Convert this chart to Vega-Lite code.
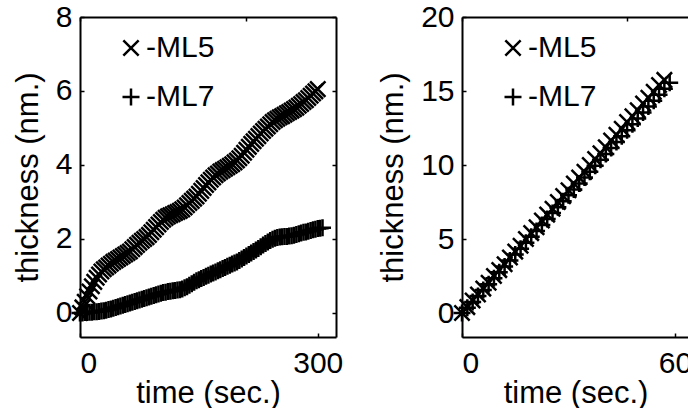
{
 "$schema": "https://vega.github.io/schema/vega-lite/v6.json",
 "padding": {"left": 12, "top": 2, "right": 0, "bottom": 0},
 "spacing": 34,
 "background": "white",
 "config": {
  "font": "Liberation Sans",
  "view": {"stroke": null},
  "axis": {
   "grid": false,
   "domainColor": "black", "domainWidth": 2,
   "tickColor": "black", "tickWidth": 1.5, "tickSize": -4,
   "labelFont": "Liberation Sans", "labelFontSize": 30, "labelColor": "black",
   "titleFont": "Liberation Sans", "titleFontSize": 31, "titleFontWeight": "normal", "titleColor": "black"
  },
  "axisX": {"labelPadding": 15, "titlePadding": 0},
  "axisY": {"labelPadding": 12, "titlePadding": 11},
  "legend": {
   "orient": "none", "legendX": 36, "legendY": 16, "title": null, "padding": 0,
   "labelFont": "Liberation Sans", "labelFontSize": 30, "labelColor": "black",
   "symbolSize": 289, "symbolStrokeWidth": 2.5, "symbolStrokeColor": "black", "symbolFillColor": "transparent",
   "labelOffset": 0, "rowPadding": 19
  }
 },
 "resolve": {"scale": {"shape": "independent"}, "legend": {"shape": "independent"}},
 "datasets": {
  "left": [
   {"series":"ML5","t":0,"v":0.00},{"series":"ML5","t":3,"v":0.15},{"series":"ML5","t":6,"v":0.30},{"series":"ML5","t":9,"v":0.45},{"series":"ML5","t":12,"v":0.58},{"series":"ML5","t":15,"v":0.72},{"series":"ML5","t":18,"v":0.84},{"series":"ML5","t":21,"v":0.95},{"series":"ML5","t":24,"v":1.04},{"series":"ML5","t":27,"v":1.12},
   {"series":"ML5","t":30,"v":1.18},{"series":"ML5","t":33,"v":1.23},{"series":"ML5","t":36,"v":1.28},{"series":"ML5","t":39,"v":1.33},{"series":"ML5","t":42,"v":1.38},{"series":"ML5","t":45,"v":1.42},{"series":"ML5","t":48,"v":1.46},{"series":"ML5","t":51,"v":1.50},{"series":"ML5","t":54,"v":1.54},{"series":"ML5","t":57,"v":1.58},
   {"series":"ML5","t":60,"v":1.62},{"series":"ML5","t":63,"v":1.66},{"series":"ML5","t":66,"v":1.72},{"series":"ML5","t":69,"v":1.78},{"series":"ML5","t":72,"v":1.84},{"series":"ML5","t":75,"v":1.90},{"series":"ML5","t":78,"v":1.95},{"series":"ML5","t":81,"v":2.00},{"series":"ML5","t":84,"v":2.05},{"series":"ML5","t":87,"v":2.11},
   {"series":"ML5","t":90,"v":2.18},{"series":"ML5","t":93,"v":2.25},{"series":"ML5","t":96,"v":2.32},{"series":"ML5","t":99,"v":2.39},{"series":"ML5","t":102,"v":2.46},{"series":"ML5","t":105,"v":2.52},{"series":"ML5","t":108,"v":2.57},{"series":"ML5","t":111,"v":2.61},{"series":"ML5","t":114,"v":2.64},{"series":"ML5","t":117,"v":2.67},
   {"series":"ML5","t":120,"v":2.70},{"series":"ML5","t":123,"v":2.73},{"series":"ML5","t":126,"v":2.76},{"series":"ML5","t":129,"v":2.80},{"series":"ML5","t":132,"v":2.85},{"series":"ML5","t":135,"v":2.91},{"series":"ML5","t":138,"v":2.97},{"series":"ML5","t":141,"v":3.03},{"series":"ML5","t":144,"v":3.09},{"series":"ML5","t":147,"v":3.15},
   {"series":"ML5","t":150,"v":3.22},{"series":"ML5","t":153,"v":3.30},{"series":"ML5","t":156,"v":3.38},{"series":"ML5","t":159,"v":3.46},{"series":"ML5","t":162,"v":3.53},{"series":"ML5","t":165,"v":3.60},{"series":"ML5","t":168,"v":3.66},{"series":"ML5","t":171,"v":3.72},{"series":"ML5","t":174,"v":3.77},{"series":"ML5","t":177,"v":3.82},
   {"series":"ML5","t":180,"v":3.86},{"series":"ML5","t":183,"v":3.90},{"series":"ML5","t":186,"v":3.94},{"series":"ML5","t":189,"v":3.98},{"series":"ML5","t":192,"v":4.02},{"series":"ML5","t":195,"v":4.07},{"series":"ML5","t":198,"v":4.12},{"series":"ML5","t":201,"v":4.18},{"series":"ML5","t":204,"v":4.25},{"series":"ML5","t":207,"v":4.33},
   {"series":"ML5","t":210,"v":4.41},{"series":"ML5","t":213,"v":4.49},{"series":"ML5","t":216,"v":4.57},{"series":"ML5","t":219,"v":4.64},{"series":"ML5","t":222,"v":4.71},{"series":"ML5","t":225,"v":4.78},{"series":"ML5","t":228,"v":4.85},{"series":"ML5","t":231,"v":4.92},{"series":"ML5","t":234,"v":4.98},{"series":"ML5","t":237,"v":5.04},
   {"series":"ML5","t":240,"v":5.10},{"series":"ML5","t":243,"v":5.16},{"series":"ML5","t":246,"v":5.21},{"series":"ML5","t":249,"v":5.25},{"series":"ML5","t":252,"v":5.29},{"series":"ML5","t":255,"v":5.32},{"series":"ML5","t":258,"v":5.36},{"series":"ML5","t":261,"v":5.40},{"series":"ML5","t":264,"v":5.43},{"series":"ML5","t":267,"v":5.47},
   {"series":"ML5","t":270,"v":5.51},{"series":"ML5","t":273,"v":5.55},{"series":"ML5","t":276,"v":5.60},{"series":"ML5","t":279,"v":5.65},{"series":"ML5","t":282,"v":5.70},{"series":"ML5","t":285,"v":5.75},{"series":"ML5","t":288,"v":5.81},{"series":"ML5","t":291,"v":5.87},{"series":"ML5","t":294,"v":5.93},{"series":"ML5","t":297,"v":5.99},
   {"series":"ML5","t":300,"v":6.05},
   {"series":"ML7","t":0,"v":0.00},{"series":"ML7","t":3,"v":0.00},{"series":"ML7","t":6,"v":0.01},{"series":"ML7","t":9,"v":0.01},{"series":"ML7","t":12,"v":0.02},{"series":"ML7","t":15,"v":0.02},{"series":"ML7","t":18,"v":0.03},{"series":"ML7","t":21,"v":0.03},{"series":"ML7","t":24,"v":0.04},{"series":"ML7","t":27,"v":0.05},
   {"series":"ML7","t":30,"v":0.06},{"series":"ML7","t":33,"v":0.07},{"series":"ML7","t":36,"v":0.09},{"series":"ML7","t":39,"v":0.11},{"series":"ML7","t":42,"v":0.13},{"series":"ML7","t":45,"v":0.15},{"series":"ML7","t":48,"v":0.17},{"series":"ML7","t":51,"v":0.19},{"series":"ML7","t":54,"v":0.21},{"series":"ML7","t":57,"v":0.23},
   {"series":"ML7","t":60,"v":0.25},{"series":"ML7","t":63,"v":0.27},{"series":"ML7","t":66,"v":0.29},{"series":"ML7","t":69,"v":0.31},{"series":"ML7","t":72,"v":0.33},{"series":"ML7","t":75,"v":0.35},{"series":"ML7","t":78,"v":0.37},{"series":"ML7","t":81,"v":0.39},{"series":"ML7","t":84,"v":0.41},{"series":"ML7","t":87,"v":0.43},
   {"series":"ML7","t":90,"v":0.45},{"series":"ML7","t":93,"v":0.47},{"series":"ML7","t":96,"v":0.49},{"series":"ML7","t":99,"v":0.51},{"series":"ML7","t":102,"v":0.53},{"series":"ML7","t":105,"v":0.55},{"series":"ML7","t":108,"v":0.56},{"series":"ML7","t":111,"v":0.58},{"series":"ML7","t":114,"v":0.59},{"series":"ML7","t":117,"v":0.60},
   {"series":"ML7","t":120,"v":0.61},{"series":"ML7","t":123,"v":0.62},{"series":"ML7","t":126,"v":0.63},{"series":"ML7","t":129,"v":0.65},{"series":"ML7","t":132,"v":0.68},{"series":"ML7","t":135,"v":0.71},{"series":"ML7","t":138,"v":0.75},{"series":"ML7","t":141,"v":0.79},{"series":"ML7","t":144,"v":0.83},{"series":"ML7","t":147,"v":0.87},
   {"series":"ML7","t":150,"v":0.90},{"series":"ML7","t":153,"v":0.93},{"series":"ML7","t":156,"v":0.96},{"series":"ML7","t":159,"v":0.99},{"series":"ML7","t":162,"v":1.02},{"series":"ML7","t":165,"v":1.05},{"series":"ML7","t":168,"v":1.08},{"series":"ML7","t":171,"v":1.11},{"series":"ML7","t":174,"v":1.14},{"series":"ML7","t":177,"v":1.17},
   {"series":"ML7","t":180,"v":1.20},{"series":"ML7","t":183,"v":1.23},{"series":"ML7","t":186,"v":1.26},{"series":"ML7","t":189,"v":1.29},{"series":"ML7","t":192,"v":1.32},{"series":"ML7","t":195,"v":1.35},{"series":"ML7","t":198,"v":1.38},{"series":"ML7","t":201,"v":1.42},{"series":"ML7","t":204,"v":1.46},{"series":"ML7","t":207,"v":1.50},
   {"series":"ML7","t":210,"v":1.54},{"series":"ML7","t":213,"v":1.58},{"series":"ML7","t":216,"v":1.62},{"series":"ML7","t":219,"v":1.66},{"series":"ML7","t":222,"v":1.70},{"series":"ML7","t":225,"v":1.74},{"series":"ML7","t":228,"v":1.79},{"series":"ML7","t":231,"v":1.84},{"series":"ML7","t":234,"v":1.88},{"series":"ML7","t":237,"v":1.92},
   {"series":"ML7","t":240,"v":1.96},{"series":"ML7","t":243,"v":1.99},{"series":"ML7","t":246,"v":2.02},{"series":"ML7","t":249,"v":2.04},{"series":"ML7","t":252,"v":2.05},{"series":"ML7","t":255,"v":2.06},{"series":"ML7","t":258,"v":2.07},{"series":"ML7","t":261,"v":2.07},{"series":"ML7","t":264,"v":2.08},{"series":"ML7","t":267,"v":2.09},
   {"series":"ML7","t":270,"v":2.10},{"series":"ML7","t":273,"v":2.12},{"series":"ML7","t":276,"v":2.14},{"series":"ML7","t":279,"v":2.16},{"series":"ML7","t":282,"v":2.18},{"series":"ML7","t":285,"v":2.19},{"series":"ML7","t":288,"v":2.21},{"series":"ML7","t":291,"v":2.23},{"series":"ML7","t":294,"v":2.25},{"series":"ML7","t":297,"v":2.26},
   {"series":"ML7","t":300,"v":2.28},{"series":"ML7","t":303,"v":2.29},{"series":"ML7","t":306,"v":2.30}
  ],
  "right": [
   {"series":"ML5","t":0,"v":0.00},{"series":"ML5","t":1.5,"v":0.40},{"series":"ML5","t":3,"v":0.85},{"series":"ML5","t":4.5,"v":1.25},{"series":"ML5","t":6,"v":1.65},{"series":"ML5","t":7.5,"v":2.05},{"series":"ML5","t":9,"v":2.50},{"series":"ML5","t":10.5,"v":2.90},{"series":"ML5","t":12,"v":3.30},{"series":"ML5","t":13.5,"v":3.75},
   {"series":"ML5","t":15,"v":4.15},{"series":"ML5","t":16.5,"v":4.55},{"series":"ML5","t":18,"v":5.00},{"series":"ML5","t":19.5,"v":5.40},{"series":"ML5","t":21,"v":5.80},{"series":"ML5","t":22.5,"v":6.25},{"series":"ML5","t":24,"v":6.65},{"series":"ML5","t":25.5,"v":7.05},{"series":"ML5","t":27,"v":7.50},{"series":"ML5","t":28.5,"v":7.90},
   {"series":"ML5","t":30,"v":8.30},{"series":"ML5","t":31.5,"v":8.75},{"series":"ML5","t":33,"v":9.15},{"series":"ML5","t":34.5,"v":9.55},{"series":"ML5","t":36,"v":10.00},{"series":"ML5","t":37.5,"v":10.40},{"series":"ML5","t":39,"v":10.80},{"series":"ML5","t":40.5,"v":11.20},{"series":"ML5","t":42,"v":11.65},{"series":"ML5","t":43.5,"v":12.05},
   {"series":"ML5","t":45,"v":12.45},{"series":"ML5","t":46.5,"v":12.90},{"series":"ML5","t":48,"v":13.30},{"series":"ML5","t":49.5,"v":13.70},{"series":"ML5","t":51,"v":14.15},{"series":"ML5","t":52.5,"v":14.55},{"series":"ML5","t":54,"v":14.95},{"series":"ML5","t":55.5,"v":15.40},{"series":"ML5","t":57,"v":15.75},
   {"series":"ML7","t":0,"v":0.00},{"series":"ML7","t":1.5,"v":0.35},{"series":"ML7","t":3,"v":0.75},{"series":"ML7","t":4.5,"v":1.15},{"series":"ML7","t":6,"v":1.55},{"series":"ML7","t":7.5,"v":1.95},{"series":"ML7","t":9,"v":2.35},{"series":"ML7","t":10.5,"v":2.75},{"series":"ML7","t":12,"v":3.15},{"series":"ML7","t":13.5,"v":3.55},
   {"series":"ML7","t":15,"v":3.95},{"series":"ML7","t":16.5,"v":4.35},{"series":"ML7","t":18,"v":4.75},{"series":"ML7","t":19.5,"v":5.15},{"series":"ML7","t":21,"v":5.55},{"series":"ML7","t":22.5,"v":5.95},{"series":"ML7","t":24,"v":6.35},{"series":"ML7","t":25.5,"v":6.75},{"series":"ML7","t":27,"v":7.15},{"series":"ML7","t":28.5,"v":7.55},
   {"series":"ML7","t":30,"v":7.95},{"series":"ML7","t":31.5,"v":8.35},{"series":"ML7","t":33,"v":8.75},{"series":"ML7","t":34.5,"v":9.15},{"series":"ML7","t":36,"v":9.55},{"series":"ML7","t":37.5,"v":9.95},{"series":"ML7","t":39,"v":10.35},{"series":"ML7","t":40.5,"v":10.75},{"series":"ML7","t":42,"v":11.15},{"series":"ML7","t":43.5,"v":11.55},
   {"series":"ML7","t":45,"v":11.95},{"series":"ML7","t":46.5,"v":12.35},{"series":"ML7","t":48,"v":12.75},{"series":"ML7","t":49.5,"v":13.15},{"series":"ML7","t":51,"v":13.55},{"series":"ML7","t":52.5,"v":13.95},{"series":"ML7","t":54,"v":14.35},{"series":"ML7","t":55.5,"v":14.75},{"series":"ML7","t":57,"v":15.15},{"series":"ML7","t":58.5,"v":15.55}
  ],
  "leftframe": [{"t": 0, "v": 0}],
  "rightframe": [{"t": 0}]
 },
 "hconcat": [
  {
   "width": 256, "height": 320,
   "layer": [
    {
     "data": {"name": "left"},
     "mark": {"type": "point", "filled": false, "color": "black", "strokeWidth": 2.5, "size": 289, "opacity": 1},
     "encoding": {
      "x": {"field": "t", "type": "quantitative", "scale": {"domain": [0, 323], "nice": false, "zero": false},
            "axis": {"orient": "bottom", "values": [0, 300], "title": "time (sec.)"}},
      "y": {"field": "v", "type": "quantitative", "scale": {"domain": [-0.65, 8], "nice": false, "zero": false},
            "axis": {"orient": "left", "values": [0, 2, 4, 6, 8], "title": "thickness (nm.)"}},
      "shape": {"field": "series", "type": "nominal",
                "scale": {"domain": ["ML5", "ML7"], "range": ["M-0.9,-0.9L0.9,0.9M-0.9,0.9L0.9,-0.9", "M-1,0L1,0M0,-1L0,1"]},
                "legend": {"labelExpr": "'-' + datum.label"}}
     }
    },
    {
     "data": {"name": "leftframe"},
     "mark": {"type": "point", "opacity": 0},
     "encoding": {
      "x": {"field": "t", "type": "quantitative", "axis": {"orient": "top", "values": [0, 209], "labels": false, "title": null}},
      "y": {"field": "v", "type": "quantitative", "axis": {"orient": "right", "values": [0, 2, 4, 6, 8], "labels": false, "title": null}}
     }
    }
   ],
   "resolve": {"axis": {"x": "independent", "y": "independent"}}
  },
  {
   "width": 227, "height": 320,
   "layer": [
    {
     "data": {"name": "right"},
     "mark": {"type": "point", "filled": false, "color": "black", "strokeWidth": 2.5, "size": 289, "opacity": 1},
     "encoding": {
      "x": {"field": "t", "type": "quantitative", "scale": {"domain": [0, 63.94], "nice": false, "zero": false},
            "axis": {"orient": "bottom", "values": [0, 60], "title": "time (sec.)"}},
      "y": {"field": "v", "type": "quantitative", "scale": {"domain": [-1.62, 20], "nice": false, "zero": false},
            "axis": {"orient": "left", "values": [0, 5, 10, 15, 20], "title": "thickness (nm.)"}},
      "shape": {"field": "series", "type": "nominal",
                "scale": {"domain": ["ML5", "ML7"], "range": ["M-0.9,-0.9L0.9,0.9M-0.9,0.9L0.9,-0.9", "M-1,0L1,0M0,-1L0,1"]},
                "legend": {"labelExpr": "'-' + datum.label"}}
     }
    },
    {
     "data": {"name": "rightframe"},
     "mark": {"type": "point", "opacity": 0},
     "encoding": {
      "x": {"field": "t", "type": "quantitative", "axis": {"orient": "top", "values": [0, 46.5], "labels": false, "title": null}}
     }
    }
   ],
   "resolve": {"axis": {"x": "independent"}}
  }
 ]
}
